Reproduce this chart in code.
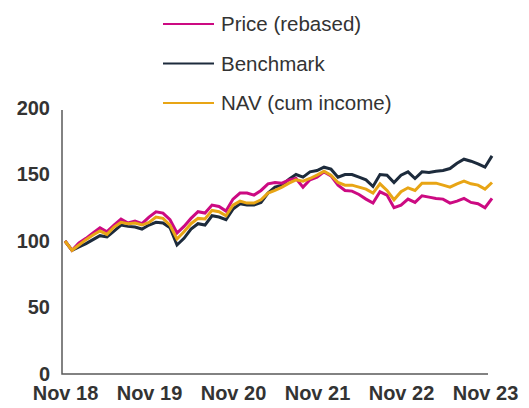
<!DOCTYPE html>
<html>
<head>
<meta charset="utf-8">
<script src="https://cdn.jsdelivr.net/npm/d3@7"></script>
<style>
  body { margin: 0; background: #fff; }
  text { font-family: "Liberation Sans", Arial, sans-serif; }
</style>
</head>
<body>
<div id="chart"></div>
<script>
// monthly values, Nov 18 .. Dec 23
const price = [100, 93, 98.5, 102, 106, 110, 107, 112, 116.5, 113.5, 115, 113, 118, 122, 121, 116,
  106, 111, 117, 122, 121, 127, 126, 122.5, 131.5, 136, 136, 134.5, 138, 143, 144, 143.5, 146, 147,
  140.5, 146, 148, 152, 149, 142, 138, 137.5, 135, 131.5, 128.5, 137, 134.5, 125, 127, 131.5, 129,
  134, 133, 132, 131.5, 128.5, 130, 132, 129, 128, 125, 132]

const benchmark = [100, 93, 95.5, 98, 101, 104, 103, 107.5, 112, 111, 110.5, 109, 112, 114, 113.5, 110,
  97, 102, 109, 113, 112, 119, 118, 116, 124, 128, 127, 127, 129, 136, 140.5, 142, 146.5, 150,
  148, 152, 153, 155.5, 154, 148, 150, 150, 148, 146, 141, 150, 149.5, 144, 149.5, 152, 147,
  152, 151.5, 152.5, 153, 154.5, 158.5, 161.5, 160, 158, 155.5, 164]

const nav = [100, 93, 97, 101, 104.5, 107.5, 105, 110.5, 114, 113, 113.5, 112, 114, 118, 117, 112,
  101.5, 107, 113, 117, 116.5, 123, 122, 119, 127, 130, 128.5, 128.5, 131, 136, 138, 140.5, 143.5, 146,
  145, 147, 149.5, 152.5, 149.5, 144, 142, 142, 140.5, 139, 136, 143, 138, 131, 137, 140, 138,
  143.5, 143.5, 143.5, 142, 140.5, 143, 145, 143, 142, 139, 144]

const xTickLabels = ['Nov 18', 'Nov 19', 'Nov 20', 'Nov 21', 'Nov 22', 'Nov 23']
const yTicks = [0, 50, 100, 150, 200]

const width = 529
const height = 408

const svg = d3
  .select('#chart')
  .append('svg')
  .attr('width', width)
  .attr('height', height)

const xPositionScale = d3
  .scaleLinear()
  .domain([0, price.length - 1])
  .range([65, 492])

const yPositionScale = d3
  .scaleLinear()
  .domain([0, 200])
  .range([374, 108])

// axes
const yAxis = d3
  .axisLeft(yPositionScale)
  .tickValues(yTicks)
  .tickSize(0)
  .tickPadding(12)

svg
  .append('g')
  .attr('class', 'axis y-axis')
  .attr('transform', 'translate(62,0)')
  .call(yAxis)

svg.select('.y-axis .domain').remove()

const xAxis = d3
  .axisBottom(xPositionScale)
  .tickValues(xTickLabels.map((d, i) => i * 12))
  .tickFormat((d, i) => xTickLabels[i])
  .tickSize(0)
  .tickPadding(12)

svg
  .append('g')
  .attr('class', 'axis x-axis')
  .attr('transform', 'translate(0,374)')
  .call(xAxis)

svg.select('.x-axis .domain').remove()

svg
  .selectAll('.axis text')
  .attr('font-size', 20)
  .attr('font-weight', 'bold')
  .attr('fill', '#333')
  .attr('font-family', '"Liberation Sans", Arial, sans-serif')

svg
  .append('path')
  .attr('d', 'M62,110V374H488')
  .attr('fill', 'none')
  .attr('stroke', '#595959')
  .attr('stroke-width', 1.5)

// lines
const series = [
  { name: 'Benchmark', values: benchmark, color: '#1d2b3c' },
  { name: 'Price (rebased)', values: price, color: '#cc0a82' },
  { name: 'NAV (cum income)', values: nav, color: '#e8a515' }
]

const line = d3
  .line()
  .x((d, i) => xPositionScale(i))
  .y(d => yPositionScale(d))

svg
  .selectAll('.series')
  .data(series)
  .enter()
  .append('path')
  .attr('class', 'series')
  .attr('d', d => line(d.values))
  .attr('fill', 'none')
  .attr('stroke', d => d.color)
  .attr('stroke-width', 3)
  .attr('stroke-linejoin', 'miter')

// legend
const legendOrder = [series[1], series[0], series[2]]

const legend = svg
  .selectAll('.legend')
  .data(legendOrder)
  .enter()
  .append('g')
  .attr('class', 'legend')
  .attr('transform', (d, i) => 'translate(163,' + (24 + i * 39.5) + ')')

legend
  .append('line')
  .attr('x1', 0)
  .attr('x2', 51)
  .attr('stroke', d => d.color)
  .attr('stroke-width', 2)

legend
  .append('text')
  .attr('x', 58)
  .attr('dy', '0.35em')
  .attr('font-size', 20.5)
  .attr('fill', '#333')
  .text(d => d.name)
</script>
</body>
</html>
